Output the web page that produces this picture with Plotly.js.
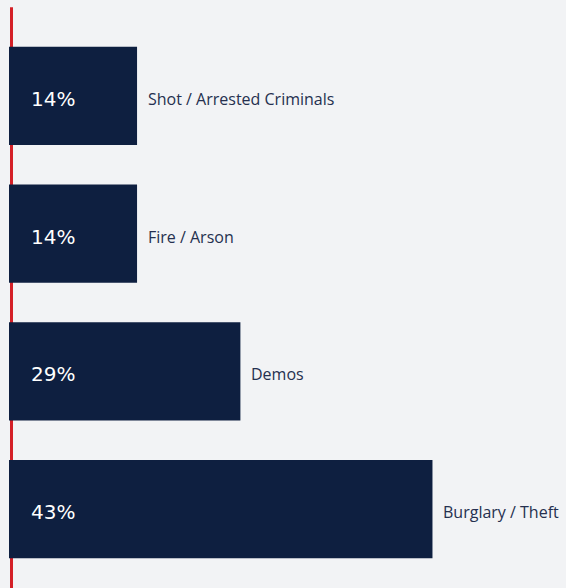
<!DOCTYPE html>
<html>
<head>
<meta charset="utf-8">
<script src="https://cdn.plot.ly/plotly-3.0.1.min.js"></script>
<style>
html,body{margin:0;padding:0;background:#f2f3f5;}
#chart{width:566px;height:588px;}
</style>
</head>
<body>
<div id="chart"></div>
<script>
var categories = ["Shot / Arrested Criminals", "Fire / Arson", "Demos", "Burglary / Theft"];
var percentLabels = ["14%", "14%", "29%", "43%"];
// bar lengths as drawn in the picture (estimated)
var barLength = [14, 14, 25.3, 46.3];

var trace = {
  type: "bar",
  orientation: "h",
  y: categories,
  x: barLength,
  marker: {color: "#0e1f40", line: {width: 0}},
  hoverinfo: "none",
  showlegend: false
};

var annotations = [];
for (var i = 0; i < categories.length; i++) {
  annotations.push({
    x: 0, y: categories[i], xref: "x", yref: "y",
    text: percentLabels[i], showarrow: false,
    xanchor: "left", yanchor: "middle", xshift: 20, yshift: -3,
    font: {family: "DejaVu Sans", size: 20, color: "#ffffff"}
  });
  annotations.push({
    x: barLength[i], y: categories[i], xref: "x", yref: "y",
    text: categories[i], showarrow: false,
    xanchor: "left", yanchor: "middle", xshift: 9, yshift: -3,
    font: {family: "Open Sans", size: 16, color: "#25304f"}
  });
}

var layout = {
  width: 566, height: 588,
  paper_bgcolor: "#f2f3f5", plot_bgcolor: "#f2f3f5",
  margin: {l: 9, r: 0, t: 27, b: 10, pad: 0},
  bargap: 0.288,
  xaxis: {range: [0, 60.9], showgrid: false, zeroline: false, showticklabels: false, showline: false, fixedrange: true},
  yaxis: {type: "category", autorange: "reversed", showgrid: false, zeroline: false, showticklabels: false, showline: false, fixedrange: true},
  shapes: [{
    type: "line", xref: "paper", yref: "paper",
    x0: 2.5/557, x1: 2.5/557, y0: -0.03, y1: 1.036,
    line: {color: "#d42027", width: 3},
    layer: "below"
  }],
  annotations: annotations
};

Plotly.newPlot("chart", [trace], layout, {displayModeBar: false, staticPlot: true});
</script>
</body>
</html>
